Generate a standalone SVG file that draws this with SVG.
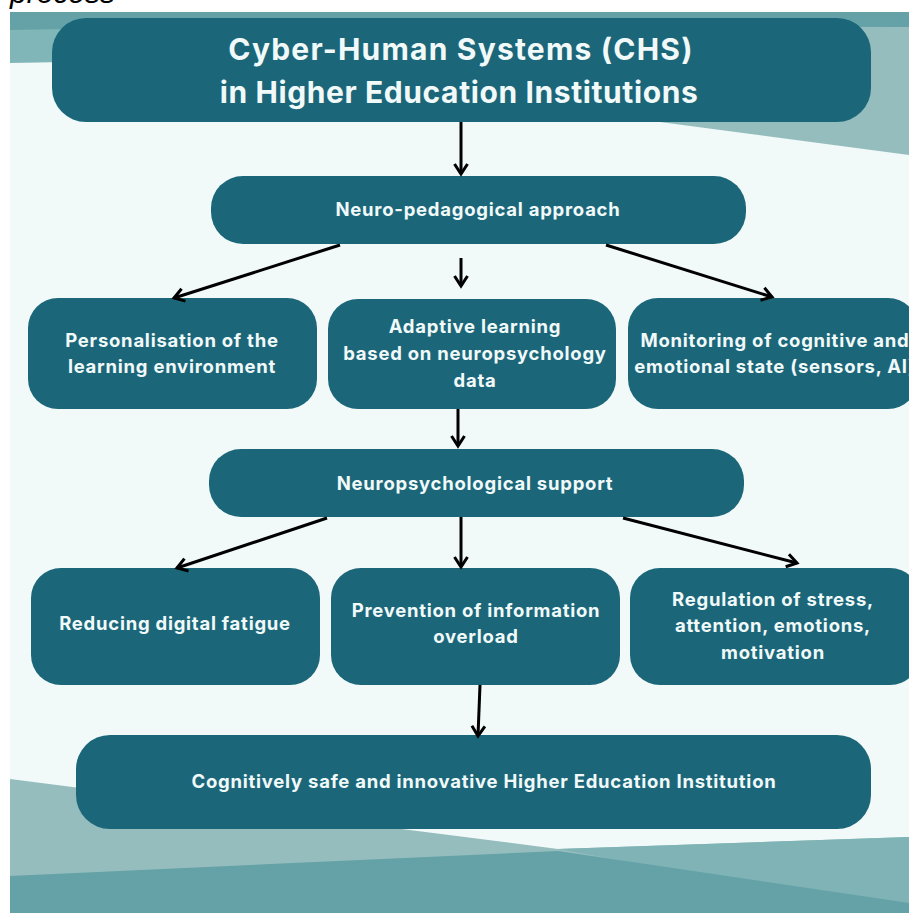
<svg xmlns="http://www.w3.org/2000/svg" width="909" height="913" viewBox="0 0 909 913">
<defs>
<style>
.node{fill:#1B6779;}
.t{font-family:Inter,"Noto Sans","Liberation Sans",sans-serif;font-weight:700;fill:#F1F9F9;text-anchor:middle;}
.n{font-size:18.5px;letter-spacing:0.75px;}
.title{font-size:30px;letter-spacing:0.6px;}
.conn{stroke:#000;stroke-width:3;fill:none;}
</style>
<marker id="ah" markerUnits="userSpaceOnUse" markerWidth="30" markerHeight="30" viewBox="-15 -15 30 30" refX="0" refY="0" orient="auto">
<path d="M -10 -6.5 L 0 0 L -10 6.5" fill="none" stroke="#000" stroke-width="3" stroke-linejoin="miter"/>
</marker>
</defs>
<rect width="909" height="913" fill="#FFFFFF"/>
<text x="10" y="3" font-family="'Liberation Sans',sans-serif" font-style="italic" font-size="30" fill="#000">process</text>
<g id="background">
<rect x="10" y="12" width="899" height="901" fill="#F1F9F9"/>
<polygon points="10,12 909,12 909,28 10,31" fill="#64A2A7"/>
<polygon points="10,30 450,22 450,55 10,63" fill="#80B6B8"/>
<polygon points="450,26 909,27 909,155 660,122 450,95" fill="#95BDBE"/>
<polygon points="10,779 558,849 909,837 909,913 10,913" fill="#95BDBE"/>
<polygon points="558,849 909,837 909,913" fill="#7FB3B5"/>
<polygon points="10,876 558,851 909,903 909,913 10,913" fill="#64A2A7"/>
</g>
<g id="title">
<rect class="node" x="52" y="18" width="819" height="104" rx="34"/>
<text class="t title" x="461" y="60" style="letter-spacing:1.2px">Cyber-Human Systems (CHS)</text>
<text class="t title" x="459" y="103">in Higher Education Institutions</text>
</g>
<g id="neuro-pedagogical">
<rect class="node" x="211" y="176" width="535" height="68" rx="32"/>
<text class="t n" x="478" y="216">Neuro-pedagogical approach</text>
</g>
<g id="personalisation">
<rect class="node" x="28" y="298" width="289" height="111" rx="30"/>
<text class="t n" x="172" y="347">Personalisation of the</text>
<text class="t n" x="172" y="373">learning environment</text>
</g>
<g id="adaptive">
<rect class="node" x="328" y="299" width="288" height="110" rx="30"/>
<text class="t n" x="475" y="333">Adaptive learning</text>
<text class="t n" x="475" y="360">based on neuropsychology</text>
<text class="t n" x="475" y="387">data</text>
</g>
<g id="monitoring">
<rect class="node" x="628" y="298" width="290" height="111" rx="30"/>
<text class="t n" x="775" y="347">Monitoring of cognitive and</text>
<text class="t n" x="775" y="373">emotional state (sensors, AI)</text>
</g>
<g id="neuropsych-support">
<rect class="node" x="209" y="449" width="535" height="68" rx="32"/>
<text class="t n" x="475" y="490">Neuropsychological support</text>
</g>
<g id="reducing">
<rect class="node" x="31" y="568" width="289" height="117" rx="30"/>
<text class="t n" x="175" y="630">Reducing digital fatigue</text>
</g>
<g id="prevention">
<rect class="node" x="331" y="568" width="289" height="117" rx="30"/>
<text class="t n" x="476" y="617">Prevention of information</text>
<text class="t n" x="476" y="643">overload</text>
</g>
<g id="regulation">
<rect class="node" x="630" y="568" width="290" height="117" rx="30"/>
<text class="t n" x="773" y="606">Regulation of stress,</text>
<text class="t n" x="773" y="632">attention, emotions,</text>
<text class="t n" x="773" y="659">motivation</text>
</g>
<g id="outcome">
<rect class="node" x="76" y="735" width="795" height="94" rx="34"/>
<text class="t n" x="484" y="788">Cognitively safe and innovative Higher Education Institution</text>
</g>
<g id="connectors">
<line class="conn" x1="461" y1="122" x2="461" y2="174" marker-end="url(#ah)"/>
<line class="conn" x1="340" y1="245" x2="174" y2="298" marker-end="url(#ah)"/>
<line class="conn" x1="461" y1="258" x2="461" y2="286" marker-end="url(#ah)"/>
<line class="conn" x1="606" y1="245" x2="772" y2="297" marker-end="url(#ah)"/>
<line class="conn" x1="458" y1="409" x2="458" y2="446" marker-end="url(#ah)"/>
<line class="conn" x1="327" y1="518" x2="177" y2="568" marker-end="url(#ah)"/>
<line class="conn" x1="461" y1="517" x2="461" y2="567" marker-end="url(#ah)"/>
<line class="conn" x1="623" y1="518" x2="797" y2="563" marker-end="url(#ah)"/>
<line class="conn" x1="480" y1="685" x2="478" y2="736" marker-end="url(#ah)"/>
</g>
</svg>
